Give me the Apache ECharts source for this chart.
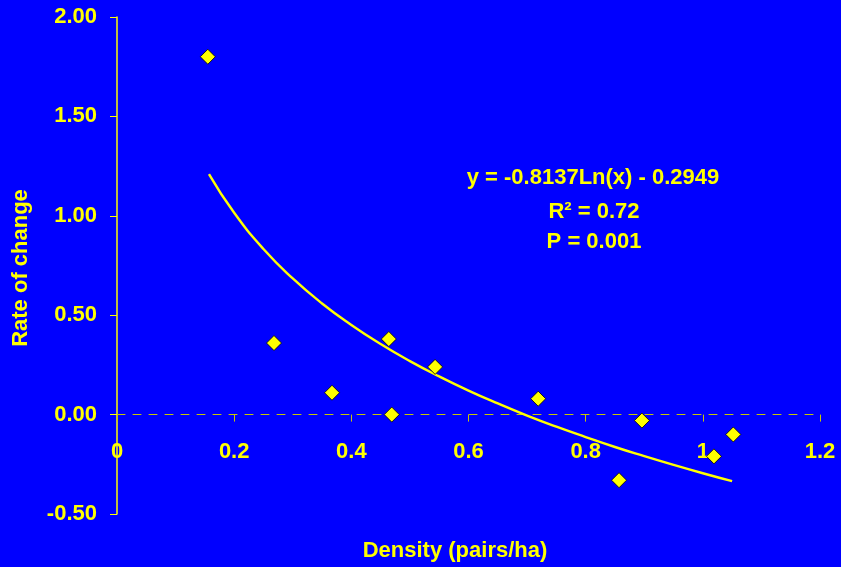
<!DOCTYPE html>
<html>
<head>
<meta charset="utf-8">
<script src="https://cdn.jsdelivr.net/npm/echarts@6/dist/echarts.min.js"></script>
<style>
  html, body { margin: 0; padding: 0; background: #0000ff; }
</style>
</head>
<body>
<div id="main" style="width: 841px; height: 567px;"></div>
<script>
// observed points
const density = [0.155, 0.268, 0.367, 0.464, 0.469, 0.543, 0.719, 0.857, 0.896, 1.019, 1.052];
const rate = [1.80, 0.36, 0.11, 0.38, 0.00, 0.24, 0.08, -0.33, -0.03, -0.21, -0.10];

// log trendline
const trendX = [0.157, 0.2, 0.25, 0.3, 0.35, 0.4, 0.45, 0.5, 0.55, 0.6, 0.65, 0.7, 0.75, 0.8, 0.85, 0.9, 0.95, 1.0, 1.05];
const trendY = [1.21, 1.015, 0.833, 0.685, 0.559, 0.451, 0.355, 0.269, 0.192, 0.121, 0.056, -0.005, -0.061, -0.113, -0.163, -0.209, -0.253, -0.295, -0.335];

const notes = ['y = -0.8137Ln(x) - 0.2949', 'R² = 0.72', 'P = 0.001'];

const yellow = '#ffff00';
const font = '"Liberation Sans", Arial, sans-serif';

let myChart = echarts.init(document.getElementById('main'));

let option = {
  backgroundColor: '#0000ff',
  animation: false,
  grid: { left: 117, right: 21, top: 17, bottom: 53 },
  xAxis: {
    type: 'value',
    min: 0,
    max: 1.2,
    interval: 0.2,
    axisLine: { show: true, onZero: true, lineStyle: { color: '#c8c800', type: [8, 8], width: 1 } },
    axisTick: { show: true, length: 7, lineStyle: { color: '#c8c800' } },
    // labels sit just under the zero line, as in the original
    axisLabel: { color: yellow, fontFamily: font, fontWeight: 'bold', fontSize: 22, margin: -73 },
    splitLine: { show: false }
  },
  yAxis: {
    type: 'value',
    min: -0.5,
    max: 2,
    interval: 0.5,
    axisLine: { show: true, lineStyle: { color: yellow, width: 1.5 } },
    axisTick: { show: true, length: 7, lineStyle: { color: yellow } },
    axisLabel: {
      color: yellow, fontFamily: font, fontWeight: 'bold', fontSize: 22, margin: 20,
      formatter: v => v.toFixed(2)
    },
    splitLine: { show: false }
  },
  graphic: [
    {
      type: 'text', x: 21, y: 268, rotation: Math.PI / 2,
      style: { text: 'Rate of change', fill: yellow, font: 'bold 22px ' + font, textAlign: 'center', textVerticalAlign: 'middle' }
    },
    {
      type: 'text', x: 455, y: 551,
      style: { text: 'Density (pairs/ha)', fill: yellow, font: 'bold 22px ' + font, textAlign: 'center', textVerticalAlign: 'middle' }
    },
    {
      type: 'text', x: 593, y: 178,
      style: { text: notes[0], fill: yellow, font: 'bold 22px ' + font, textAlign: 'center', textVerticalAlign: 'middle' }
    },
    {
      type: 'text', x: 594, y: 212,
      style: { text: notes[1], fill: yellow, font: 'bold 22px ' + font, textAlign: 'center', textVerticalAlign: 'middle' }
    },
    {
      type: 'text', x: 594, y: 242,
      style: { text: notes[2], fill: yellow, font: 'bold 22px ' + font, textAlign: 'center', textVerticalAlign: 'middle' }
    }
  ],
  series: [
    {
      name: 'trend',
      type: 'line',
      data: trendX.map((x, i) => [x, trendY[i]]),
      showSymbol: false,
      smooth: true,
      lineStyle: { color: yellow, width: 2.4 },
      z: 2
    },
    {
      name: 'rate',
      type: 'scatter',
      data: density.map((x, i) => [x, rate[i]]),
      symbol: 'diamond',
      symbolSize: 15,
      itemStyle: { color: yellow, borderColor: '#000000', borderWidth: 0.8, opacity: 1 },
      z: 3
    }
  ]
};
myChart.setOption(option);
</script>
</body>
</html>
